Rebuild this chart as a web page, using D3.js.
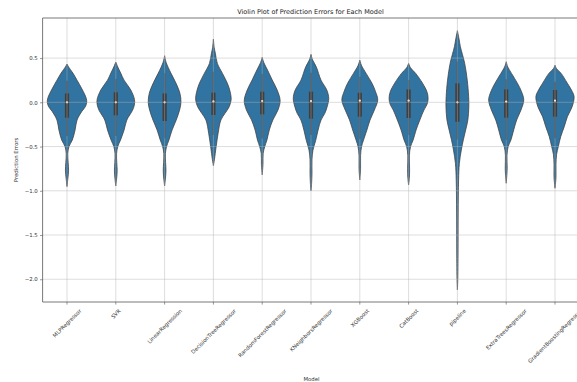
<!DOCTYPE html>
<html>
<head>
<meta charset="utf-8">
<script src="https://cdn.jsdelivr.net/npm/d3@7"></script>
<style>
  html, body { margin: 0; padding: 0; background: #fff; }
  svg { display: block; font-family: "DejaVu Sans", sans-serif; }
</style>
</head>
<body>
<svg id="chart" width="577" height="382"></svg>
<script>
// ---------- data ----------
const models = ["MLPRegressor", "SVR", "LinearRegression", "DecisionTreeRegressor",
  "RandomForestRegressor", "KNeighborsRegressor", "XGBoost", "CatBoost", "pipeline",
  "ExtraTreesRegressor", "GradientBoostingRegressor"];

// density profiles: [error value, relative density]
const densMLP = [[0.433,0],[0.40,0.08],[0.33,0.30],[0.25,0.51],[0.15,0.76],[0.05,0.97],[0.0,1.0],[-0.05,0.93],[-0.1,0.76],[-0.2,0.51],[-0.313,0.41],[-0.426,0.27],[-0.5,0.10],[-0.58,0.04],[-0.68,0.06],[-0.77,0.08],[-0.87,0.04],[-0.953,0]];
const densSVR = [[0.455,0],[0.40,0.10],[0.33,0.25],[0.25,0.42],[0.14,0.76],[0.03,0.95],[-0.03,0.94],[-0.09,0.85],[-0.2,0.56],[-0.313,0.42],[-0.426,0.24],[-0.5,0.10],[-0.58,0.04],[-0.68,0.05],[-0.77,0.07],[-0.87,0.04],[-0.946,0]];
const densLR = [[0.527,0],[0.45,0.08],[0.33,0.32],[0.22,0.57],[0.1,0.78],[0.0,0.83],[-0.087,0.76],[-0.2,0.59],[-0.313,0.38],[-0.426,0.22],[-0.5,0.10],[-0.58,0.04],[-0.68,0.05],[-0.77,0.07],[-0.87,0.04],[-0.946,0]];
const densDT = [[0.715,0],[0.62,0.04],[0.554,0.10],[0.44,0.20],[0.327,0.46],[0.215,0.71],[0.12,0.85],[0.03,0.90],[-0.05,0.80],[-0.125,0.59],[-0.2,0.38],[-0.35,0.24],[-0.5,0.14],[-0.65,0.05],[-0.716,0]];
const densRF = [[0.508,0],[0.45,0.08],[0.365,0.27],[0.252,0.51],[0.139,0.76],[0.02,0.91],[-0.087,0.80],[-0.2,0.54],[-0.313,0.36],[-0.426,0.24],[-0.5,0.13],[-0.577,0.05],[-0.7,0.04],[-0.82,0]];
const densKN = [[0.542,0],[0.48,0.08],[0.4,0.27],[0.25,0.51],[0.14,0.80],[0.045,0.90],[-0.05,0.82],[-0.125,0.70],[-0.2,0.51],[-0.313,0.36],[-0.43,0.24],[-0.54,0.10],[-0.65,0.05],[-0.8,0.05],[-0.92,0.03],[-1.0,0]];
const densXGB = [[0.478,0],[0.42,0.08],[0.327,0.32],[0.215,0.62],[0.12,0.80],[0.026,0.91],[-0.087,0.74],[-0.2,0.52],[-0.313,0.36],[-0.426,0.19],[-0.5,0.09],[-0.6,0.04],[-0.75,0.04],[-0.878,0]];
const densCat = [[0.44,0],[0.39,0.10],[0.327,0.36],[0.215,0.71],[0.12,0.93],[0.045,0.99],[-0.02,0.94],[-0.087,0.78],[-0.2,0.57],[-0.313,0.38],[-0.426,0.23],[-0.5,0.10],[-0.6,0.04],[-0.75,0.05],[-0.85,0.04],[-0.934,0]];
const densPipe = [[0.81,0],[0.72,0.08],[0.63,0.15],[0.44,0.37],[0.25,0.50],[0.064,0.57],[-0.05,0.58],[-0.2,0.53],[-0.313,0.42],[-0.425,0.30],[-0.538,0.20],[-0.69,0.10],[-0.88,0.06],[-1.25,0.04],[-1.6,0.035],[-1.82,0.03],[-2.0,0.02],[-2.12,0]];
const densET = [[0.459,0],[0.40,0.08],[0.327,0.27],[0.215,0.57],[0.12,0.78],[0.026,0.89],[-0.087,0.75],[-0.2,0.53],[-0.313,0.38],[-0.426,0.24],[-0.5,0.10],[-0.6,0.04],[-0.75,0.05],[-0.915,0]];
const densGB = [[0.42,0],[0.38,0.08],[0.327,0.31],[0.215,0.63],[0.12,0.88],[0.064,0.97],[-0.049,0.87],[-0.162,0.63],[-0.275,0.47],[-0.388,0.29],[-0.5,0.17],[-0.59,0.08],[-0.7,0.05],[-0.85,0.05],[-0.972,0]];

const densities = [densMLP, densSVR, densLR, densDT, densRF, densKN, densXGB, densCat, densPipe, densET, densGB];

// box stats: [whisker low, q1, median, q3, whisker high]
const boxStats = [
  [-0.38, -0.174, 0.0, 0.10, 0.245],
  [-0.38, -0.147, 0.0, 0.113, 0.263],
  [-0.407, -0.211, 0.0, 0.10, 0.33],
  [-0.37, -0.143, 0.01, 0.109, 0.346],
  [-0.41, -0.136, 0.015, 0.12, 0.32],
  [-0.37, -0.185, 0.015, 0.12, 0.334],
  [-0.415, -0.162, 0.019, 0.108, 0.29],
  [-0.37, -0.177, 0.019, 0.146, 0.252],
  [-0.42, -0.22, 0.0, 0.214, 0.46],
  [-0.425, -0.174, 0.008, 0.146, 0.26],
  [-0.407, -0.162, 0.019, 0.139, 0.233]
];

const yTicks = [-2.0, -1.5, -1.0, -0.5, 0.0, 0.5];
const yDomain = [-2.257, 0.953];

// ---------- layout ----------
(function () {
const svg = d3.select("#chart");
const pl = 42.6, pr = 579.4, pt = 18, pb = 302;

const x = d3.scaleBand().domain(models).range([pl, pr]).padding(0);
const y = d3.scaleLinear().domain(yDomain).range([pb, pt]);
const w = d3.scaleLinear().domain([0, 1]).range([0, x.bandwidth() * 0.404]);

const fill = "#3274a1", edge = "#3f3f3f", gridCol = "#b0b0b0";
const fmt = v => (v < 0 ? "\u2212" : "") + Math.abs(v).toFixed(1);

// violins
const area = d3.area()
  .y(d => y(d[0]))
  .curve(d3.curveCatmullRom);

models.forEach((m, i) => {
  const cx = x(m) + x.bandwidth() / 2;
  const g = svg.append("g");
  g.append("path")
    .datum(densities[i])
    .attr("d", area.x0(d => cx - w(d[1])).x1(d => cx + w(d[1])))
    .attr("fill", fill)
    .attr("stroke", edge)
    .attr("stroke-width", 0.75);
  const s = boxStats[i];
  g.append("line")
    .attr("x1", cx).attr("x2", cx)
    .attr("y1", y(s[0])).attr("y2", y(s[4]))
    .attr("stroke", edge).attr("stroke-width", 1.1);
  g.append("rect")
    .attr("x", cx - 2.1).attr("width", 4.2)
    .attr("y", y(s[3])).attr("height", y(s[1]) - y(s[3]))
    .attr("fill", edge);
  g.append("circle")
    .attr("cx", cx).attr("cy", y(s[2])).attr("r", 1.1)
    .attr("fill", "#ffffff");
});

// grid (on top, semi-transparent)
const grid = svg.append("g").attr("stroke", gridCol).attr("stroke-opacity", 0.55).attr("stroke-width", 0.8);
yTicks.forEach(t => {
  grid.append("line").attr("x1", pl).attr("x2", pr).attr("y1", y(t)).attr("y2", y(t));
});
models.forEach(m => {
  const cx = x(m) + x.bandwidth() / 2;
  grid.append("line").attr("x1", cx).attr("x2", cx).attr("y1", pt).attr("y2", pb);
});

// spines
const spine = svg.append("g").attr("stroke", "#555").attr("stroke-width", 0.8).attr("fill", "none");
spine.append("line").attr("x1", pl).attr("x2", pl).attr("y1", pt).attr("y2", pb);
spine.append("line").attr("x1", pl).attr("x2", pr).attr("y1", pb).attr("y2", pb);
spine.append("line").attr("x1", pl).attr("x2", pr).attr("y1", pt).attr("y2", pt);
spine.append("line").attr("x1", pr).attr("x2", pr).attr("y1", pt).attr("y2", pb);

// y axis
const yAxis = d3.axisLeft(y).tickValues(yTicks).tickFormat(fmt).tickSize(2.6).tickPadding(2.2);
const ya = svg.append("g").attr("transform", `translate(${pl},0)`).call(yAxis);
ya.select(".domain").remove();
ya.selectAll(".tick line").attr("stroke", "#555").attr("stroke-width", 0.6);
ya.selectAll(".tick text").attr("fill", "#333").style("font-size", "5.4px").style("font-family", "DejaVu Sans");

// x axis
const xAxis = d3.axisBottom(x).tickSize(2.6).tickFormat("");
const xa = svg.append("g").attr("transform", `translate(0,${pb})`).call(xAxis);
xa.select(".domain").remove();
xa.selectAll(".tick line").attr("stroke", "#555").attr("stroke-width", 0.6);

// rotated x tick labels, bbox centered under tick
const labTop = pb + 5.6;
models.forEach(m => {
  const cx = x(m) + x.bandwidth() / 2;
  const t = svg.append("text")
    .text(m)
    .attr("fill", "#333")
    .style("font-size", "5.4px")
    .attr("text-anchor", "middle")
    .attr("dominant-baseline", "central");
  const L = t.node().getComputedTextLength();
  const h = 6.3;
  const bboxH = (L + h) * Math.SQRT1_2;
  t.attr("transform", `translate(${cx},${labTop + bboxH / 2}) rotate(-45)`);
});

// title & axis labels
svg.append("text").attr("x", (pl + pr) / 2 - 0.5).attr("y", 14.2)
  .attr("text-anchor", "middle").attr("fill", "#222").style("font-size", "6.5px")
  .text("Violin Plot of Prediction Errors for Each Model");
svg.append("text").attr("x", 311.5).attr("y", 380.5)
  .attr("text-anchor", "middle").attr("fill", "#333").style("font-size", "5.4px")
  .text("Model");
svg.append("text")
  .attr("transform", `translate(17.5,${(pt + pb) / 2}) rotate(-90)`)
  .attr("text-anchor", "middle").attr("fill", "#333").style("font-size", "5.4px")
  .text("Prediction Errors");
})();
</script>
</body>
</html>
